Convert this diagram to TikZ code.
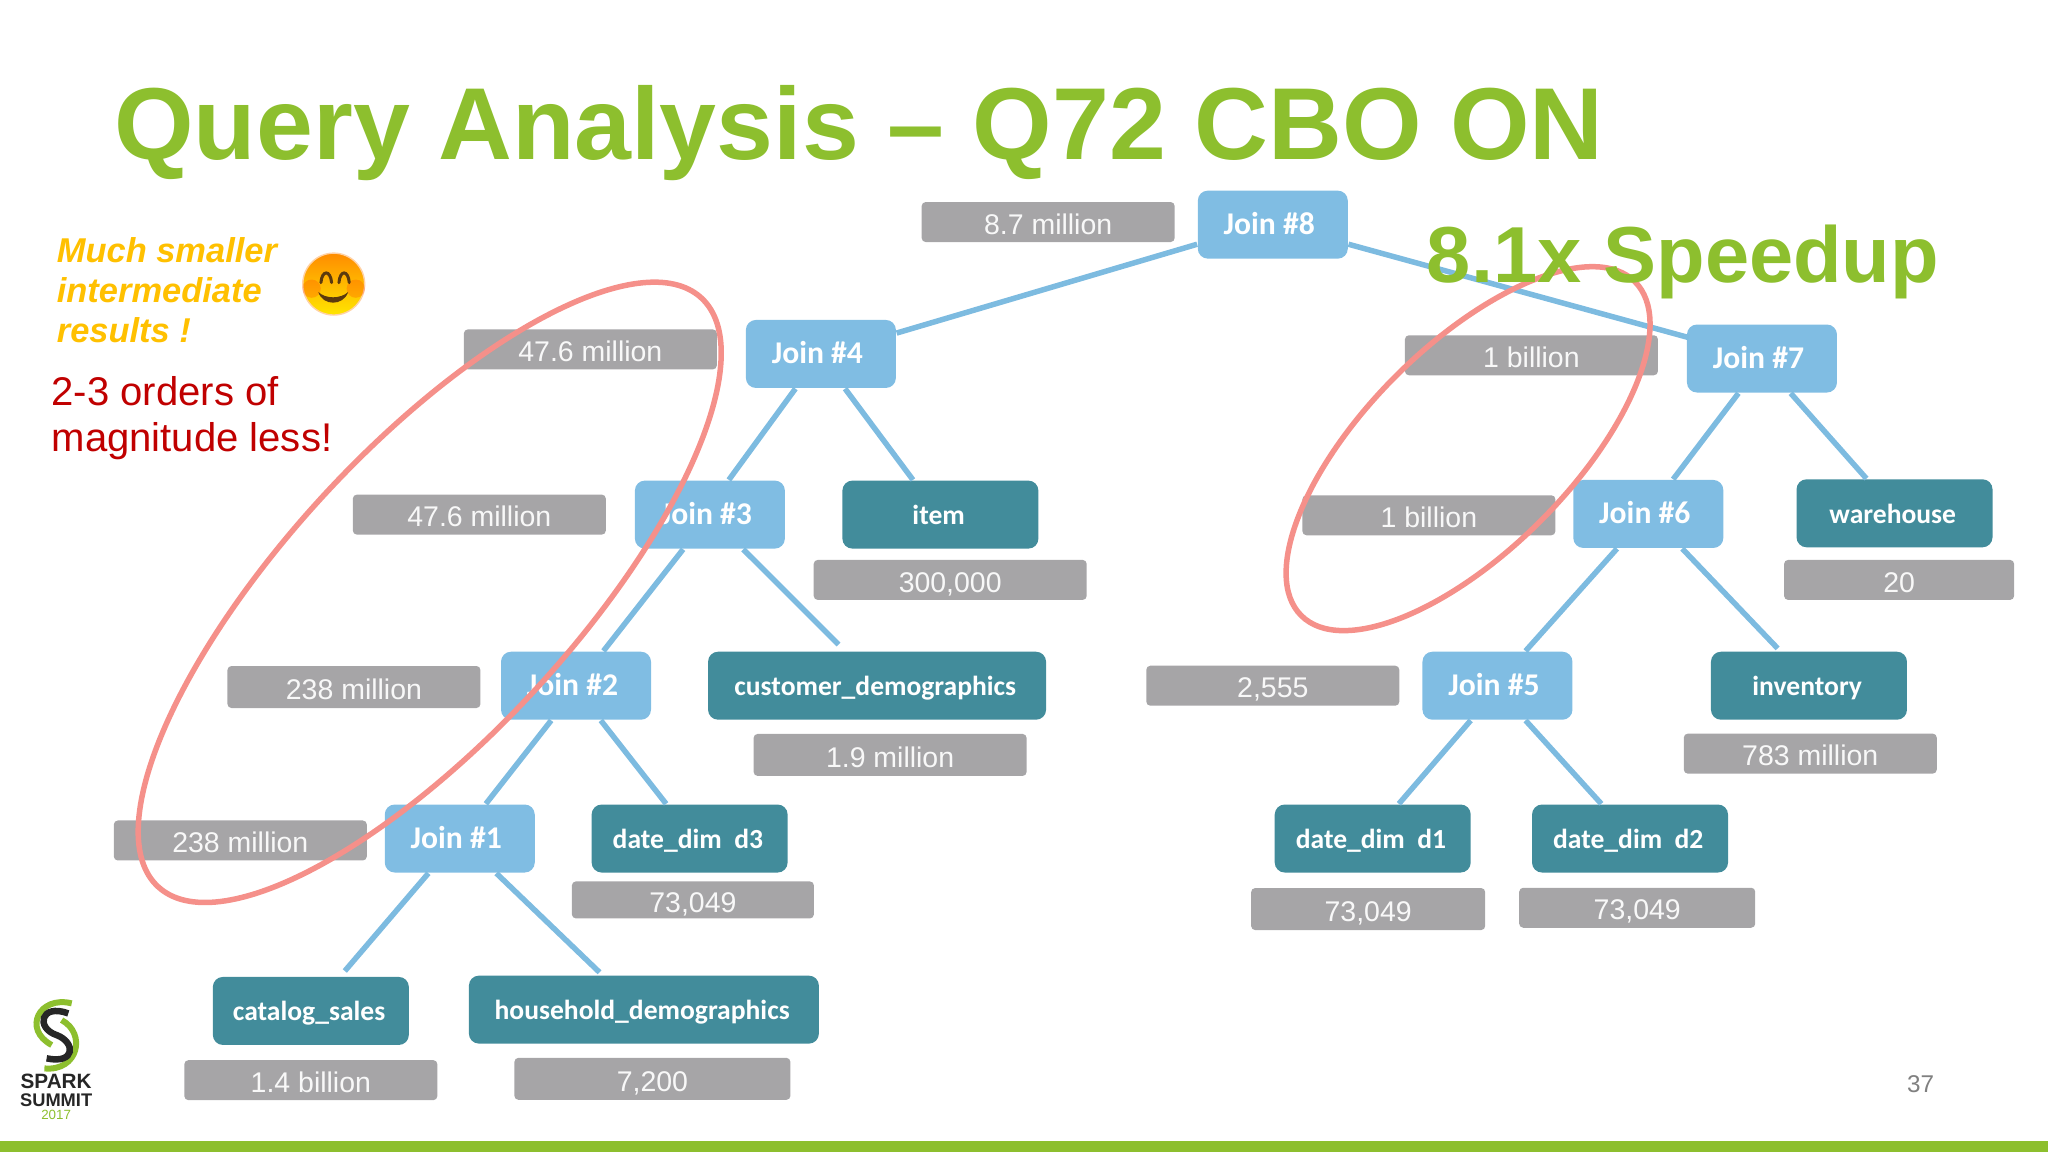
\documentclass[tikz,border=0pt]{standalone}
\usepackage{fontspec}
\setmainfont{Liberation Sans}
\newfontfamily\boxfont{Carlito}
\definecolor{slidegreen}{HTML}{8DBF2E}
\definecolor{joinblue}{HTML}{80BDE3}
\definecolor{tableteal}{HTML}{428C9B}
\definecolor{sizegray}{HTML}{A6A5A7}
\definecolor{ringred}{HTML}{F5908A}
\definecolor{linkblue}{HTML}{7DBBE0}
\definecolor{noteyellow}{HTML}{FFC000}
\definecolor{notered}{HTML}{C00000}
\definecolor{facebrown}{HTML}{5C3A0E}
\tikzset{
  boxnode/.style={text=white, rounded corners=0.1cm, inner sep=0,
    minimum width=1.5cm, minimum height=0.68cm, text height=2.7mm, text depth=0.7mm},
  joinnode/.style={boxnode, fill=joinblue, font=\boxfont\bfseries\fontsize{9}{10}\selectfont,
    execute at end node={\kern 2pt}},
  tablenode/.style={boxnode, fill=tableteal, minimum width=1.96cm, font=\boxfont\bfseries\fontsize{7.85}{10}\selectfont,
    execute at end node={\kern 1pt}},
  sizenode/.style={fill=sizegray, text=white!92!sizegray, rounded corners=0.04cm, inner sep=0,
    minimum width=2.53cm, minimum height=0.4cm, text height=2.6mm, text depth=0.16mm, font=\fontsize{8.1}{10}\selectfont},
  link/.style={draw=linkblue, line width=0.055cm},
  ring/.style={draw=ringred, line width=0.055cm},
}
\begin{document}
\begin{tikzpicture}[x=0.01306cm, y=-0.01306cm]
  \useasboundingbox (0, 0) rectangle (1568, 882);
  \fill[slidegreen] (0, 873.5) rectangle (1568, 882);

  \node[anchor=base west, inner sep=0, text=slidegreen, font=\bfseries\fontsize{29.1}{32}\selectfont] (title) at (87, 122) {Query Analysis – Q72 CBO ON};

  % joins
  \node[joinnode] (j8) at (974.5, 172) {Join \#8};
  \node[joinnode] (j4) at (628.5, 271) {Join \#4};
  \node[joinnode] (j7) at (1349, 274.5) {Join \#7};
  \node[joinnode] (j3) at (543.5, 394) {Join \#3};
  \node[joinnode] (j6) at (1262, 393.5) {Join \#6};
  \node[joinnode] (j2) at (441, 525) {Join \#2};
  \node[joinnode] (j5) at (1146.5, 525) {Join \#5};
  \node[joinnode] (j1) at (352, 642) {Join \#1};

  % tables
  \node[tablenode] (item) at (720, 394) {item};
  \node[tablenode] (warehouse) at (1450.5, 393) {warehouse};
  \node[tablenode, minimum width=3.38cm] (customer) at (671.5, 525) {customer\_demographics};
  \node[tablenode] (inventory) at (1385, 525) {inventory};
  \node[tablenode] (d3) at (528, 642) {date\_dim\ \ d3};
  \node[tablenode] (d1) at (1051, 642) {date\_dim\ \ d1};
  \node[tablenode] (d2) at (1248, 642) {date\_dim\ \ d2};
  \node[tablenode] (catalog) at (238, 774) {catalog\_sales};
  \node[tablenode, minimum width=3.5cm] (household) at (493, 773) {household\_demographics};

  % row counts
  \node[sizenode] (s8) at (802.5, 170) {8.7 million};
  \node[sizenode] (s4) at (452, 267.5) {47.6 million};
  \node[sizenode] (s7) at (1172.5, 272) {1 billion};
  \node[sizenode] (s3) at (367, 394) {47.6 million};
  \node[sizenode, minimum width=2.73cm] (sitem) at (727.5, 444) {300,000};
  \node[sizenode] (s6) at (1094, 394.5) {1 billion};
  \node[sizenode, minimum width=2.3cm] (swarehouse) at (1454, 444) {20};
  \node[sizenode, minimum height=0.42cm] (s2) at (271, 526) {238 million};
  \node[sizenode, minimum width=2.73cm, minimum height=0.42cm] (scustomer) at (681.5, 578) {1.9 million};
  \node[sizenode] (s5) at (974.5, 525) {2,555};
  \node[sizenode] (sinventory) at (1386, 577) {783 million};
  \node[sizenode] (s1) at (184, 643.5) {238 million};
  \node[sizenode, minimum width=2.42cm, minimum height=0.37cm] (sd3) at (530.5, 689) {73,049};
  \node[sizenode, minimum width=2.34cm, minimum height=0.42cm] (sd1) at (1047.5, 696) {73,049};
  \node[sizenode, minimum width=2.36cm] (sd2) at (1253.5, 695) {73,049};
  \node[sizenode] (scatalog) at (238, 827) {1.4 billion};
  \node[sizenode, minimum width=2.76cm, minimum height=0.42cm] (shousehold) at (499.5, 826) {7,200};

  \draw[link] ([shift={(0, 15)}]j8.west) -- ([shift={(0, -16)}]j4.east);
  \draw[link] ([shift={(0, 15)}]j8.east) -- ([shift={(2, -16)}]j7.west);
  \draw[link] ([shift={(-19.5, 0)}]j4.south) -- ([shift={(14.5, 0)}]j3.north);
  \draw[link] ([shift={(18.5, 0)}]j4.south) -- ([shift={(-21, 0)}]item.north);
  \draw[link] ([shift={(-18, 0)}]j7.south) -- ([shift={(19, 0)}]j6.north);
  \draw[link] ([shift={(22, 0)}]j7.south) -- ([shift={(-21.5, 0)}]warehouse.north);
  \draw[link] ([shift={(-20.5, 0)}]j3.south) -- ([shift={(21, 0)}]j2.north);
  \draw[link] ([shift={(25.5, 0)}]j3.south) -- ([shift={(-29.5, -5)}]customer.north);
  \draw[link] ([shift={(-24, 0)}]j6.south) -- ([shift={(21.5, 0)}]j5.north);
  \draw[link] ([shift={(26, 0)}]j6.south) -- ([shift={(-24, -2)}]inventory.north);
  \draw[link] ([shift={(-19, 0)}]j2.south) -- ([shift={(20, 0)}]j1.north);
  \draw[link] ([shift={(19, 0)}]j2.south) -- ([shift={(-18, 0)}]d3.north);
  \draw[link] ([shift={(-20.5, 0)}]j5.south) -- ([shift={(20, 0)}]d1.north);
  \draw[link] ([shift={(21.5, 0)}]j5.south) -- ([shift={(-22, 0)}]d2.north);
  \draw[link] ([shift={(-24, 0)}]j1.south) -- ([shift={(26, -4)}]catalog.north);
  \draw[link] ([shift={(28, 0)}]j1.south) -- ([shift={(-34, -2)}]household.north);

  \draw[ring, rotate around={47.3:(329, 453.5)}] (329, 453.5) ellipse (306.7 and 110);
  \draw[ring, rotate around={45:(1124, 343.5)}] (1124, 343.5) ellipse (180.7 and 78.4);

  \node[anchor=base west, inner sep=0, text=slidegreen, font=\bfseries\fontsize{22.6}{26}\selectfont] (speedup) at (1092, 216) {8.1x Speedup};

  \node[anchor=north west, inner sep=0, align=left, text=noteyellow, font=\bfseries\itshape\fontsize{9.8}{11.4}\selectfont] (note) at (43, 181) {Much smaller\\intermediate\\results !};
  \node[anchor=north west, inner sep=0, align=left, text=notered, font=\fontsize{11.4}{12.9}\selectfont] (orders) at (39, 288) {2-3 orders of\\magnitude less!};

  % smiley
  \shade[top color=orange!90!yellow, bottom color=yellow!80!orange, draw=orange!35!white] (255.5, 217.5) circle (23.7);
  \fill[red!70!orange, opacity=0.22] (238.6, 221) circle (7) (272.4, 221) circle (7);
  \draw[facebrown, line width=0.03cm, line cap=round] (245.7, 216.4) .. controls (246.5, 206.5) and (253, 206.5) .. (253.9, 216.4);
  \draw[facebrown, line width=0.03cm, line cap=round] (259.5, 216.4) .. controls (260.3, 206.5) and (266.6, 206.5) .. (267.4, 216.4);
  \fill[facebrown] (243.7, 223.5) .. controls (249, 229) and (261, 229) .. (266.6, 223.5) .. controls (263, 234.5) and (247, 234.5) .. (243.7, 223.5);

  % logo
  \draw[slidegreen, line width=0.06cm] (54.9, 768.2) .. controls (30, 762) and (17, 788) .. (39.6, 800.1);
  \draw[slidegreen, line width=0.06cm] (47.2, 781) .. controls (66.3, 791.2) and (60, 820.5) .. (34, 818);
  \draw[black!85, line width=0.065cm] (52.3, 775.9) .. controls (31, 768) and (27, 787) .. (43.4, 792.5) .. controls (58, 798) and (58, 815) .. (35.7, 810.3);
  \node[inner sep=0, text=black!85, font=\bfseries\fontsize{5.9}{6}\selectfont] (spark) at (43, 828) {SPARK};
  \node[inner sep=0, text=black!85, font=\bfseries\fontsize{5.2}{6}\selectfont] (summit) at (43, 842.5) {SUMMIT};
  \node[inner sep=0, text=slidegreen, font=\fontsize{3.8}{4}\selectfont] (year) at (43, 853.5) {2017};

  \node[inner sep=0, text=black!50, font=\fontsize{6.9}{8}\selectfont] (page) at (1470.5, 830) {37};
\end{tikzpicture}
\end{document}
